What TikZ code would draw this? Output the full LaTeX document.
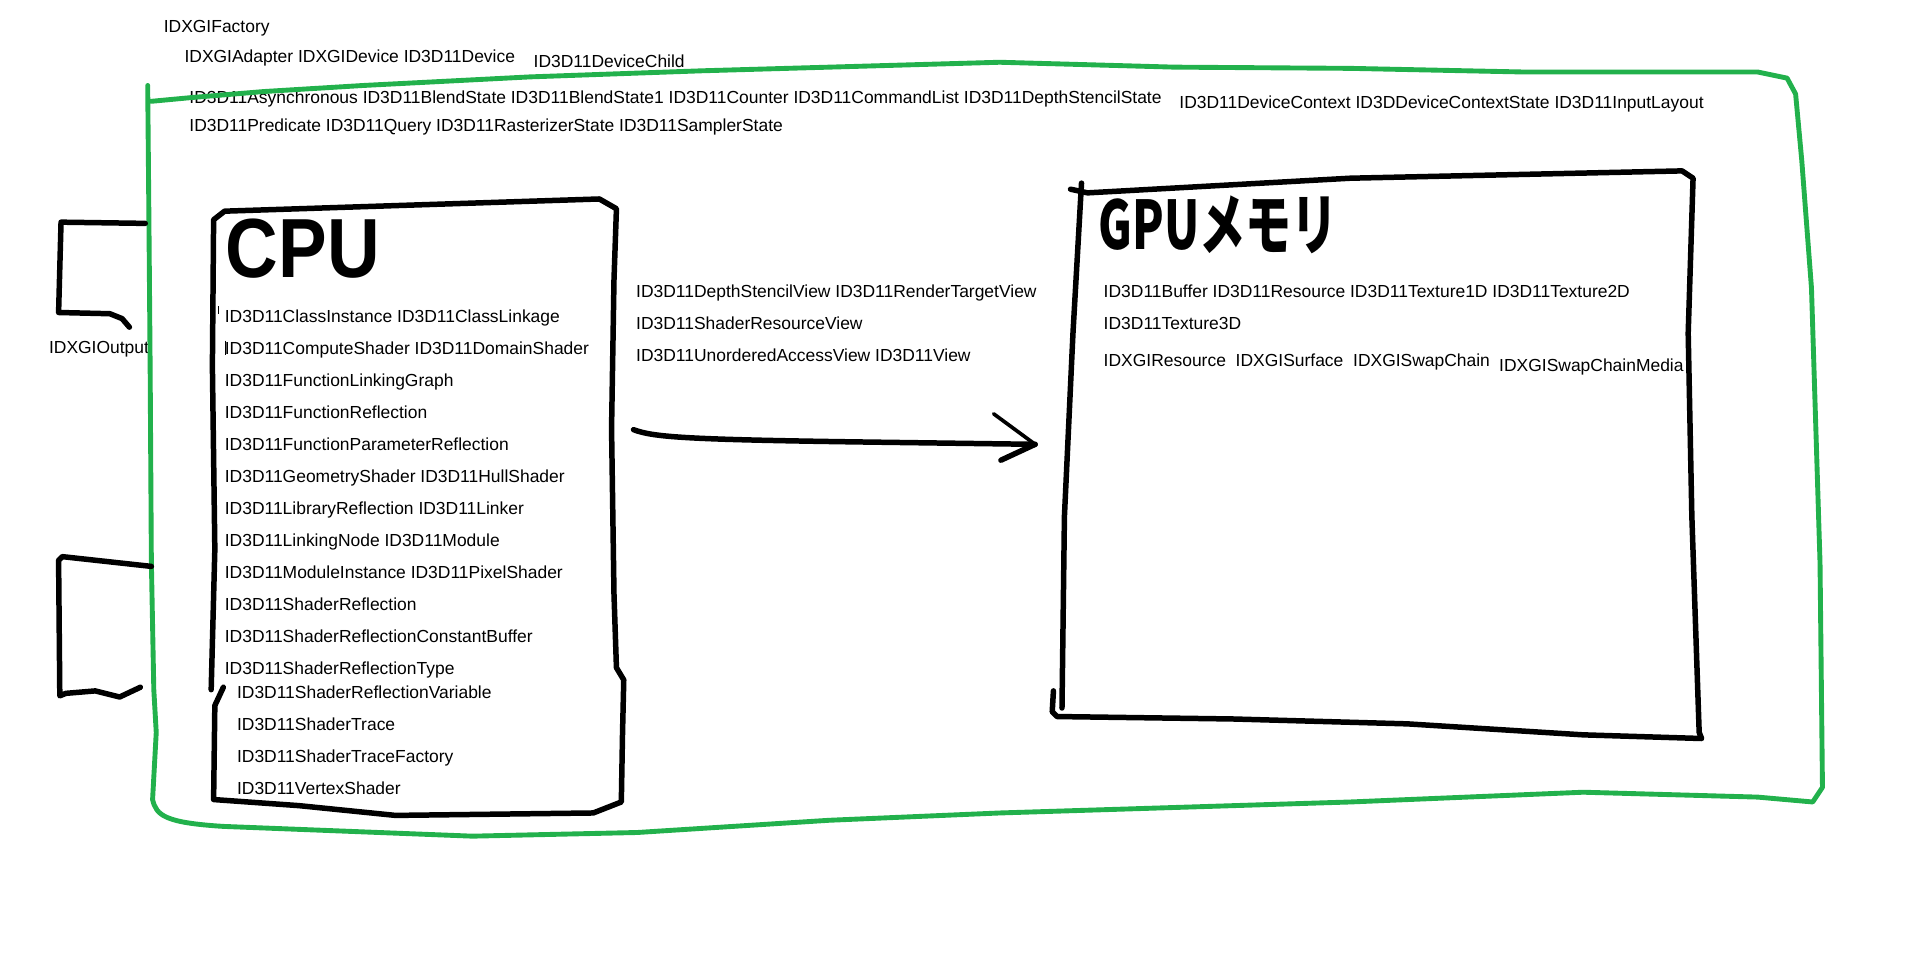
\documentclass[tikz,border=0pt]{standalone}
\usepackage{fontspec}
\setmainfont{Liberation Sans}
\newfontfamily\jpfont{Noto Sans CJK JP}
\definecolor{paintgreen}{RGB}{34,177,76}
\usetikzlibrary{positioning}

\begin{document}
\begin{tikzpicture}[x=1pt,y=-1pt,node distance=26.2pt,
    txt/.style={anchor=west,inner sep=0pt,font=\fontsize{14.3}{16}\selectfont,text height=10pt,text depth=0pt},
    nextline/.style={below=of #1.west,anchor=west},
    hand/.style={inner sep=0pt,font=\bfseries},
    sketch/.style={line width=4.5pt,line cap=round,line join=round},
    frame/.style={paintgreen,line width=4pt,line cap=round,line join=round}]

	\useasboundingbox (0,0) rectangle (1568,795);

	% top lines
	\node[txt] (fac) at (134,22) {IDXGIFactory};
	\node[txt] (adp) at (151,46) {IDXGIAdapter IDXGIDevice ID3D11Device};
	\node[txt] (chd) at (437,50) {ID3D11DeviceChild};
	\node[txt] (asy) at (155,80) {ID3D11Asynchronous ID3D11BlendState ID3D11BlendState1 ID3D11Counter ID3D11CommandList ID3D11DepthStencilState};
	\node[txt] (ctx) at (966,84) {ID3D11DeviceContext ID3DDeviceContextState ID3D11InputLayout};
	\node[txt] (prd) at (155,103) {ID3D11Predicate ID3D11Query ID3D11RasterizerState ID3D11SamplerState};
	\node[txt] (out) at (40,285) {IDXGIOutput};

	% CPU
	\node[hand] (cpu) at (248,204) {\resizebox{126pt}{48pt}{CPU}};
	\node[txt] (c1) at (184,259) {ID3D11ClassInstance ID3D11ClassLinkage};
	\node[txt,nextline=c1] (c2) {ID3D11ComputeShader ID3D11DomainShader};
	\node[txt,nextline=c2] (c3) {ID3D11FunctionLinkingGraph};
	\node[txt,nextline=c3] (c4) {ID3D11FunctionReflection};
	\node[txt,nextline=c4] (c5) {ID3D11FunctionParameterReflection};
	\node[txt,nextline=c5] (c6) {ID3D11GeometryShader ID3D11HullShader};
	\node[txt,nextline=c6] (c7) {ID3D11LibraryReflection ID3D11Linker};
	\node[txt,nextline=c7] (c8) {ID3D11LinkingNode ID3D11Module};
	\node[txt,nextline=c8] (c9) {ID3D11ModuleInstance ID3D11PixelShader};
	\node[txt,nextline=c9] (c10) {ID3D11ShaderReflection};
	\node[txt,nextline=c10] (c11) {ID3D11ShaderReflectionConstantBuffer};
	\node[txt,nextline=c11] (c12) {ID3D11ShaderReflectionType};
	\node[txt] (c13) at (194,567) {ID3D11ShaderReflectionVariable};
	\node[txt,nextline=c13] (c14) {ID3D11ShaderTrace};
	\node[txt,nextline=c14] (c15) {ID3D11ShaderTraceFactory};
	\node[txt,nextline=c15] (c16) {ID3D11VertexShader};

	% views
	\node[txt] (v1) at (521,239) {ID3D11DepthStencilView ID3D11RenderTargetView};
	\node[txt,nextline=v1] (v2) {ID3D11ShaderResourceView};
	\node[txt,nextline=v2] (v3) {ID3D11UnorderedAccessView ID3D11View};

	% GPU memory
	\node[hand] (gpu) at (998,184) {\resizebox{196pt}{44pt}{\jpfont\bfseries GPUメモリ}};
	\node[txt] (g1) at (904,239) {ID3D11Buffer ID3D11Resource ID3D11Texture1D ID3D11Texture2D};
	\node[txt,nextline=g1] (g2) {ID3D11Texture3D};
	\node[txt] (g3) at (904,295) {IDXGIResource\hspace{8pt}IDXGISurface\hspace{8pt}IDXGISwapChain};
	\node[txt] (g4) at (1228,299) {IDXGISwapChainMedia};

	% device frame
	\draw[frame] (121,70) -- (122,180) -- (123,300) -- (124,460) -- (126,565) -- (128,600) -- (125,655)
		.. controls (128,668) and (135,674) .. (183,677) -- (387,685) -- (522,682) -- (679,672) -- (819,666)
		-- (1106,657) -- (1297,649) -- (1440,653) -- (1485,657) -- (1493,645) -- (1491,461) -- (1484,236)
		-- (1476,131) -- (1471,77) -- (1464,64) -- (1440,59) -- (1249,59) -- (1106,56) -- (962,55)
		-- (819,51) -- (575,58) -- (434,63) -- (298,70) -- (216,75) -- (156,80) -- (124,83);

	% output brackets
	\draw[sketch] (119,183) -- (50,182) -- (48,256) -- (90,257) -- (100,261) -- (106,268);
	\draw[sketch] (124,464) -- (51,456) -- (48,459) -- (49,570) -- (54,568) -- (78,566) -- (98,571) -- (115,563);

	% CPU box
	\draw[sketch] (183,563) -- (176,578) -- (175,655) -- (245,660) -- (324,668) -- (486,666) -- (509,657)
		-- (510,600) -- (511,557) -- (505,547) -- (503,487) -- (501,351) -- (503,229) -- (505,171)
		-- (491,163) -- (184,173) -- (175,180) -- (174,300) -- (176,450) -- (173,565);
	\draw[thin] (179,251) -- (179,257);
	\draw[thin] (184.5,279) -- (184.5,291);

	% GPU box
	\draw[sketch] (870,580) -- (872,423) -- (879,273) -- (886,150);
	\draw[sketch] (877,155) -- (891,158) -- (1106,146) -- (1378,140) -- (1387,146) -- (1383,273)
		-- (1386,423) -- (1392,600) -- (1394,605) -- (1297,602) -- (1153,593) -- (1010,589)
		-- (866,587) -- (862,583) -- (863,566);

	% arrow
	\coordinate (cpuout) at (519,352);
	\coordinate (gpuin) at (848,364);
	\draw[sketch] (cpuout) .. controls (535,358) and (560,360) .. (700,362) -- (gpuin);
	\draw[sketch,line width=3pt] (814,339) -- (gpuin);
	\draw[sketch] (gpuin) -- (820,377);

\end{tikzpicture}
\end{document}
